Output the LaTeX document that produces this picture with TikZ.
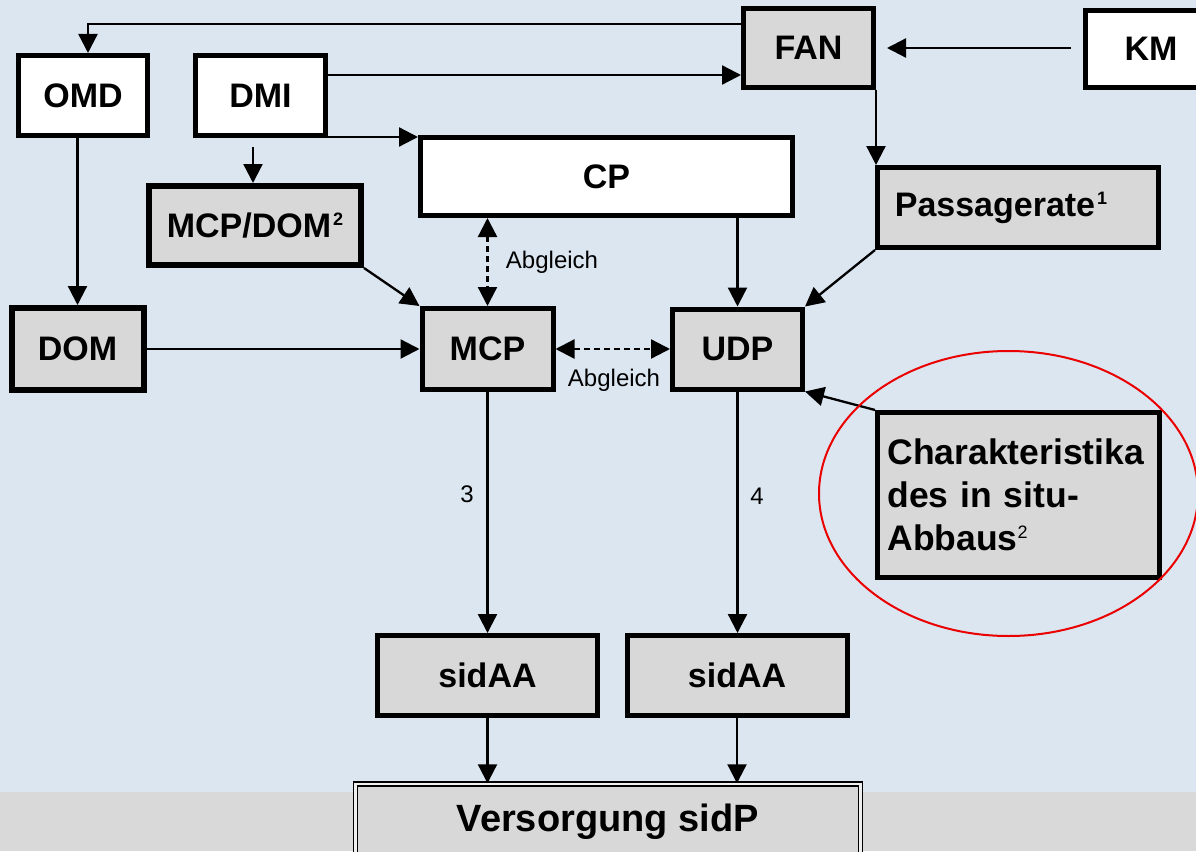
\documentclass[tikz,border=0pt]{standalone}
\usepackage{fontspec}
\setmainfont{Liberation Sans}
\usetikzlibrary{arrows.meta}
\definecolor{bgblue}{RGB}{220,230,241}
\definecolor{bandgray}{RGB}{217,217,217}
\definecolor{boxgray}{RGB}{216,216,216}
\definecolor{ringred}{RGB}{235,0,0}
\newcommand{\supnum}[1]{\raisebox{12pt}{\fontsize{18}{18}\selectfont #1}}
\begin{document}
\begin{tikzpicture}[x=1pt,y=-1pt,
  box/.style={draw=black, line width=5pt, inner sep=0pt,
    font=\fontsize{34}{40}\selectfont\bfseries},
  whitebox/.style={box, fill=white},
  graybox/.style={box, fill=boxgray},
  tip/.tip={Triangle[length=19pt,width=19pt]},
  conn/.style={line width=2.3pt, -tip},
  dconn/.style={line width=2.3pt, dash pattern=on 6pt off 4pt, tip-tip},
  lbl/.style={font=\fontsize{24}{28}\selectfont, inner sep=0pt}]
\useasboundingbox (0,0) rectangle (1196,851);
\clip (0,0) rectangle (1196,851);
\fill[bgblue] (0,0) rectangle (1196,851);
\fill[bandgray] (0,792) rectangle (1196,851);

% boxes
\node[whitebox, minimum width=129pt, minimum height=80pt] (OMD) at (83,95.5) {OMD};
\node[whitebox, minimum width=130pt, minimum height=80pt] (DMI) at (260.5,95.5) {DMI};
\node[graybox, minimum width=130pt, minimum height=78pt] (FAN) at (808.5,48) {FAN};
\node[whitebox, minimum width=150pt, minimum height=77pt] (KM) at (1160,49) {KM\kern18pt};
\node[whitebox, minimum width=372pt, minimum height=78pt] (CP) at (606.5,176.5) {CP};
\node[graybox, line width=6pt, minimum width=212pt, minimum height=79pt] (MCPDOM) at (255,225.5) {MCP/DOM\kern2pt\supnum{2}};
\node[graybox, minimum width=281pt, minimum height=80pt] (Pass) at (1018,207.5) {Passagerate\kern2pt\supnum{1}\kern34pt};
\node[graybox, line width=6pt, minimum width=132pt, minimum height=82pt] (DOM) at (77.5,349) {DOM};
\node[graybox, minimum width=131pt, minimum height=81pt] (MCP) at (487.5,349) {MCP};
\node[graybox, minimum width=130pt, minimum height=80pt] (UDP) at (737.5,349) {UDP};
\node[graybox, minimum width=282pt, minimum height=165pt, text width=262pt, align=left,
  font=\fontsize{35.5}{43}\selectfont\bfseries] (Char) at (1018.5,495)
  {Charakteristika\\des in situ-\\Abbaus{\mdseries\supnum{2}}};
\node[graybox, minimum width=220pt, minimum height=80pt] (sidA) at (487.5,675.5) {sidAA};
\node[graybox, minimum width=220pt, minimum height=80pt] (sidB) at (737,675.5) {sidAA};
\node[draw=black, line width=1.5pt, double=boxgray!40!white, double distance=2.5pt,
  fill=boxgray, inner sep=0pt, minimum width=505pt, minimum height=76pt,
  font=\fontsize{38}{44}\selectfont\bfseries] (Vers) at (607.75,822) {Versorgung sidP};

% lane coordinates
\coordinate (ytop) at (0,24);
\coordinate (xomd) at (88,0);
\coordinate (ydf) at (0,75);
\coordinate (ydc) at (0,137);
\coordinate (dmiout) at (253,147);
\coordinate (xfp) at (876,0);

% connectors
\draw[conn] (FAN.west |- ytop) -| (OMD.north -| xomd);
\draw[conn] (DMI.east |- ydf) -- (FAN.west |- ydf);
\draw[conn] (DMI.east |- ydc) -- (CP.west |- ydc);
\draw[conn] (dmiout) -- (MCPDOM.north -| dmiout);
\draw[conn] ([xshift=-12pt]KM.west |- FAN.east) -- ([xshift=11pt]FAN.east);
\draw[conn] (FAN.south -| xfp) -- (Pass.north -| xfp);
\draw[conn] (OMD.south -| DOM.north) -- (DOM.north);
\draw[conn] (DOM.east) -- (MCP.west);
\draw[conn] (MCPDOM.south east) -- (MCP.north west);
\draw[dconn] (CP.south -| MCP.north) -- (MCP.north);
\draw[conn] (CP.south -| UDP.north) -- (UDP.north);
\draw[conn] (Pass.south west) -- (UDP.north east);
\draw[dconn] (MCP.east) -- (UDP.west);
\draw[conn] (Char.north west) -- (UDP.south east);
\draw[conn] (MCP.south) -- (sidA.north);
\draw[conn] (UDP.south) -- (sidB.north -| UDP.south);
\draw[conn] (sidA.south) -- (sidA.south |- Vers.north);
\draw[conn] (sidB.south) -- (sidB.south |- Vers.north);

% labels
\node[lbl] (lab1) at (552,262) {Abgleich};
\node[lbl] (lab2) at (614,380) {Abgleich};
\node[lbl] (lab3) at (467,494) {3};
\node[lbl] (lab4) at (757,496) {4};

% red ring
\draw[ringred, line width=2pt] (1008.5,493.5) ellipse [x radius=189.5, y radius=142.5];
\end{tikzpicture}
\end{document}
